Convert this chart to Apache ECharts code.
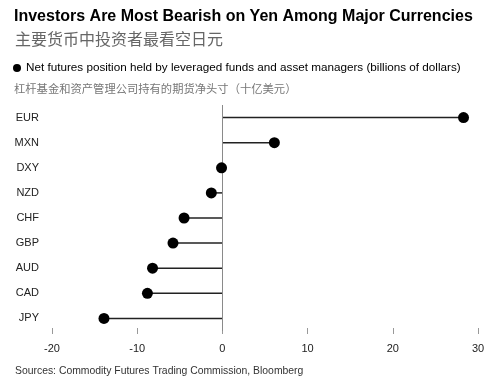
<!DOCTYPE html>
<html><head><meta charset="utf-8">
<script src="https://cdn.jsdelivr.net/npm/echarts@6/dist/echarts.min.js"></script>
<style>html,body{margin:0;padding:0;background:#fff}#c{width:499px;height:384px}</style>
</head><body><div id="c"></div>
<script>
const categories = ["EUR","MXN","DXY","NZD","CHF","GBP","AUD","CAD","JPY"];
const values = [28.3, 6.1, -0.1, -1.3, -4.5, -5.8, -8.2, -8.8, -13.9];
const xTicks = [-20, -10, 0, 10, 20, 30];
const seriesName = "Net futures position held by leveraged funds and asset managers (billions of dollars)";
const titleText = "Investors Are Most Bearish on Yen Among Major Currencies";
const subtitleText = "主要货币中投资者最看空日元";
const seriesNameZh = "杠杆基金和资产管理公司持有的期货净头寸（十亿美元）";
const sourceText = "Sources: Commodity Futures Trading Commission, Bloomberg";

const LAT = "'Liberation Sans', Arial, sans-serif";
const CJK = "'Noto Sans CJK SC', sans-serif";
const chart = echarts.init(document.getElementById('c'), null, {renderer:'canvas'});
chart.setOption({
  animation: false,
  backgroundColor: '#fff',
  title: [
    {text: titleText, left: 9, top: 4, textStyle:{fontFamily: LAT, fontWeight:'bold', fontSize: 16, color:'#000'}},
    {text: subtitleText, left: 10, top: 26, textStyle:{fontFamily: CJK, fontWeight:'normal', fontSize: 16, color:'#666'}},
    {text: seriesNameZh, left: 9, top: 78, textStyle:{fontFamily: CJK, fontWeight:'normal', fontSize: 11.3, color:'#777'}},
    {text: sourceText, left: 10, top: 361, textStyle:{fontFamily: LAT, fontWeight:'normal', fontSize: 10.4, color:'#333'}}
  ],
  legend: {
    left: 13, top: 62, padding: 0, itemWidth: 8, itemHeight: 8, itemGap: 4,
    icon: 'circle',
    data: [seriesName],
    textStyle: {fontFamily: LAT, fontSize: 11.7, color:'#000'}
  },
  grid: {left: 52, right: 21, top: 105, bottom: 53},
  xAxis: {
    type: 'value', min: -20, max: 30, interval: 10, offset: -3,
    axisLine: {show:false},
    axisTick: {show:true, length: 6, lineStyle:{color:'#999', width:1}},
    splitLine: {show:false},
    axisLabel: {fontFamily: LAT, fontSize: 11, color:'#222', margin: 15,
      customValues: xTicks}
  },
  yAxis: {
    type: 'category', data: categories, inverse: true,
    axisLine: {show:false}, axisTick: {show:false},
    axisLabel: {fontFamily: LAT, fontSize: 11, color:'#222', margin: 13}
  },
  series: [
    {
      type: 'bar', name: 'stem', data: values, barWidth: 1.5,
      itemStyle: {color: '#222'}, silent: true, z: 2,
      markLine: {
        silent: true, symbol: ['none','none'], label:{show:false},
        lineStyle: {color:'#8a8a8a', width:1, type:'solid'},
        data: [{xAxis: 0}]
      }
    },
    {
      type: 'scatter', name: seriesName, data: values, symbol: 'circle', symbolSize: 11,
      itemStyle: {color: '#000', opacity: 1}, z: 5
    }
  ]
});
</script></body></html>
